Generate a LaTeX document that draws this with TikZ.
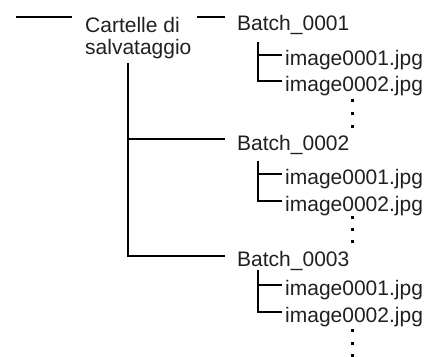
\documentclass[tikz,border=0pt]{standalone}
\usepackage{fontspec}
\setmainfont{Liberation Sans}
\definecolor{ink}{RGB}{35,31,32}
\begin{document}
\begin{tikzpicture}[x=1pt,y=-1pt,
  conn/.style={draw=black,line width=2pt},
  lbl/.style={inner sep=0pt,anchor=base west,text=ink,font=\fontsize{21}{22}\selectfont},
  dotmark/.style={fill=black}]
\useasboundingbox (0,0) rectangle (430,356);
% nodes
\node[lbl,align=left] (root) at (85,54) {Cartelle di\\salvataggio};
\node[lbl] (b1) at (237,30) {Batch\_0001};
\node[lbl] (b2) at (237,150) {Batch\_0002};
\node[lbl] (b3) at (237,266) {Batch\_0003};
\node[lbl] (i11) at (285,65) {image0001.jpg};
\node[lbl] (i12) at (285,91) {image0002.jpg};
\node[lbl] (i21) at (285,184) {image0001.jpg};
\node[lbl] (i22) at (285,211) {image0002.jpg};
\node[lbl] (i31) at (285,295) {image0001.jpg};
\node[lbl] (i32) at (285,322) {image0002.jpg};
% coordinates
\coordinate (r0) at (16,17);
\coordinate (r1) at (72,17);
\coordinate (r2) at (197,17);
\coordinate (b1in) at (225,17);
\coordinate (vt) at (128,63);
\coordinate (v2) at (128,139);
\coordinate (v3) at (128,256);
\coordinate (b2in) at (225,139);
\coordinate (b3in) at (225,256);
% connectors
\draw[conn] (r0) -- (r1);
\draw[conn] (r2) -- (b1in);
\draw[conn] (vt) -- (v3) -- (b3in);
\draw[conn] (v2) -- (b2in);
% subtrees
\draw[conn] (258,42) -- (258,81) -- (282,81);
\draw[conn] (258,55) -- (282,55);
\draw[conn] (258,161) -- (258,201) -- (282,201);
\draw[conn] (258,174) -- (282,174);
\draw[conn] (258,270) -- (258,312) -- (282,312);
\draw[conn] (258,285) -- (282,285);
% vertical ellipses
\foreach \y in {100,113,126,217,229,241,330,343,355}
  \fill[dotmark] (350.5,\y-1.5) rectangle +(3,3);
\end{tikzpicture}
\end{document}
